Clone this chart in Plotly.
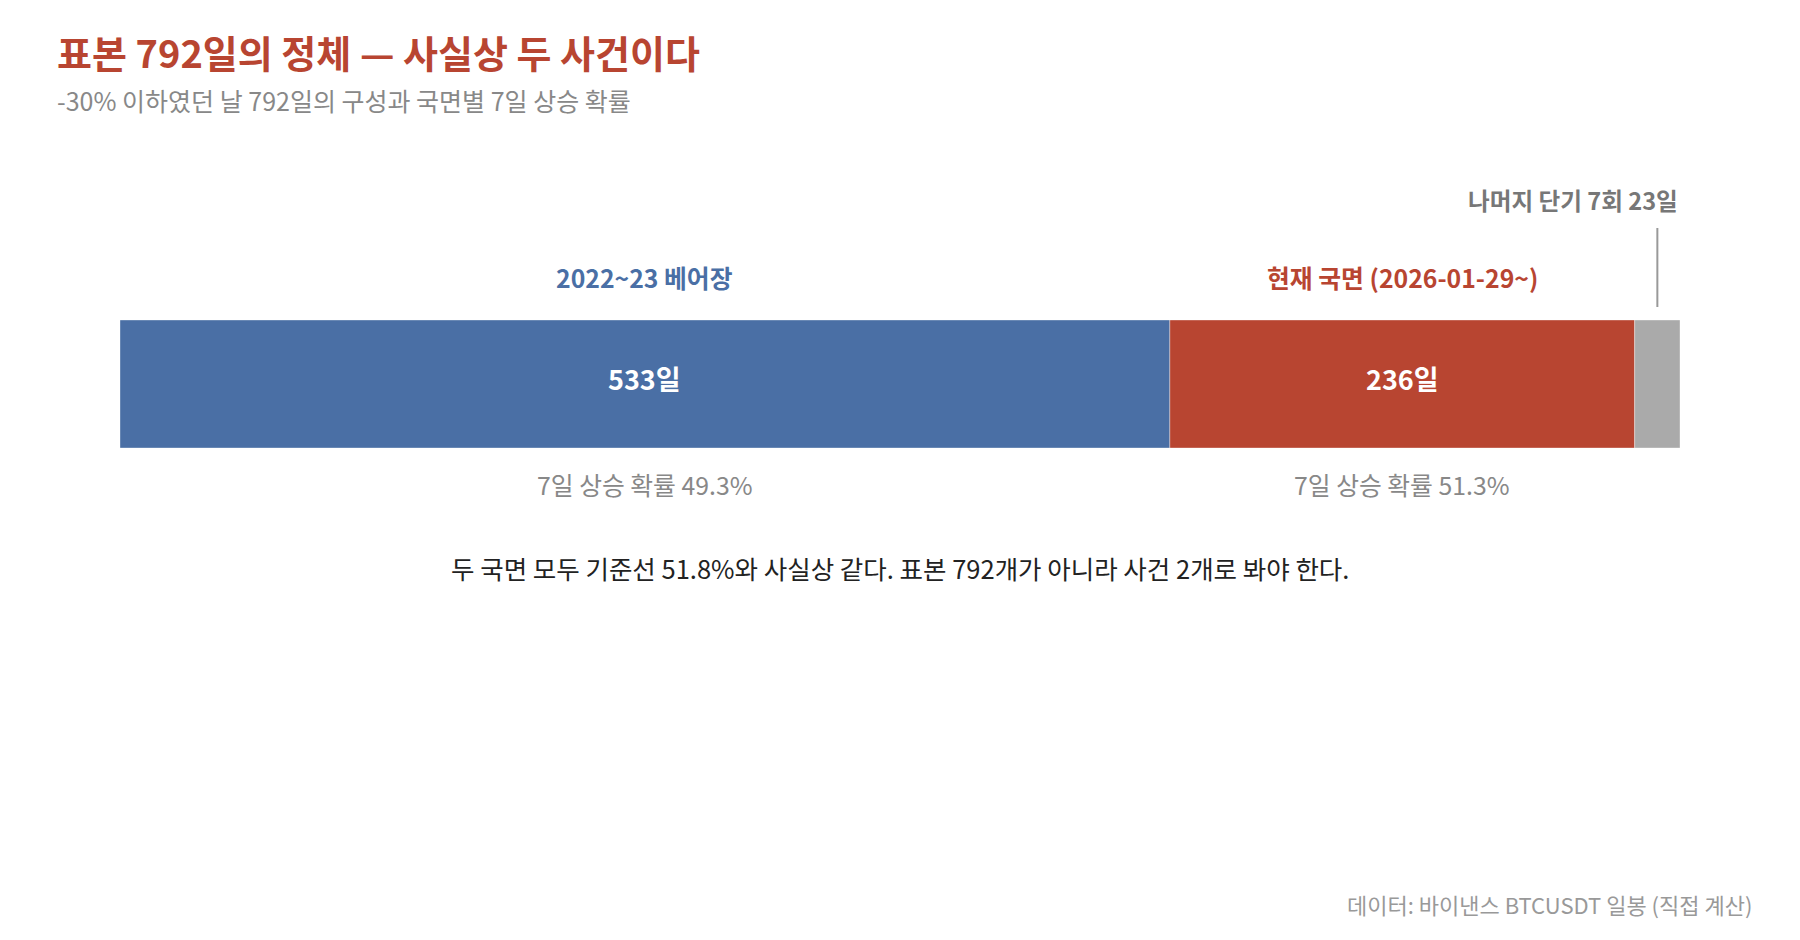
import plotly.graph_objects as go

# ---- data ----
segment_names = ["2022~23 베어장", "현재 국면 (2026-01-29~)", "나머지 단기 7회"]
segment_days = [533, 236, 23]
up_prob_7d = [49.3, 51.3, None]
segment_colors = ["#4a6fa5", "#b84531", "#aaaaaa"]
label_colors = ["#4a6fa5", "#b84531", "#777777"]
rest_label = "나머지 단기 7회 23일"

title = "표본 792일의 정체 — 사실상 두 사건이다"
subtitle = "-30% 이하였던 날 792일의 구성과 국면별 7일 상승 확률"
note = "두 국면 모두 기준선 51.8%와 사실상 같다. 표본 792개가 아니라 사건 2개로 봐야 한다."
source = "데이터: 바이낸스 BTCUSDT 일봉 (직접 계산)"

FONT = "Noto Sans CJK KR"
W, H = 1800, 940
BAR_Y = 384
total = sum(segment_days)

fig = go.Figure()
starts = []
acc = 0
for name, d, c in zip(segment_names, segment_days, segment_colors):
    starts.append(acc)
    fig.add_trace(go.Bar(
        x=[d], y=[BAR_Y], base=[acc], orientation="h", width=128,
        marker=dict(color=c, line=dict(color="rgba(255,255,255,0.6)", width=0.6)),
        hoverinfo="skip", showlegend=False, name=name,
    ))
    acc += d

annotations = []
for i, (name, d) in enumerate(zip(segment_names, segment_days)):
    mid = starts[i] + d / 2
    if up_prob_7d[i] is not None:
        annotations.append(dict(x=mid, y=BAR_Y - 6, xref="x", yref="y", text=f"<b>{d}일</b>",
                                showarrow=False, font=dict(family=FONT, size=27, color="white")))
        annotations.append(dict(x=mid, y=277, xref="x", yref="y", text=f"<b>{name}</b>",
                                showarrow=False, font=dict(family=FONT, size=24.8, color=label_colors[i])))
        annotations.append(dict(x=mid, y=484, xref="x", yref="y", text=f"7일 상승 확률 {up_prob_7d[i]}%",
                                showarrow=False, font=dict(family=FONT, size=24.8, color="#888888")))

rest_mid = starts[2] + segment_days[2] / 2
annotations.append(dict(x=total, y=200, xref="x", yref="y", xanchor="right", text=f"<b>{rest_label}</b>",
                        showarrow=False, font=dict(family=FONT, size=23.6, color="#777777")))

annotations += [
    dict(x=55 / W, y=51, xref="paper", yref="y", xanchor="left", text=f"<b>{title}</b>",
         showarrow=False, font=dict(family=FONT, size=38, color="#b84531")),
    dict(x=55 / W, y=100, xref="paper", yref="y", xanchor="left", text=subtitle,
         showarrow=False, font=dict(family=FONT, size=25, color="#888888")),
    dict(x=total / 2, y=567, xref="x", yref="y", text=note,
         showarrow=False, font=dict(family=FONT, size=25.5, color="#222222")),
    dict(x=1754 / W, y=904, xref="paper", yref="y", xanchor="right", text=source,
         showarrow=False, font=dict(family=FONT, size=22, color="#999999")),
]

fig.add_shape(type="line", x0=rest_mid, x1=rest_mid, y0=228, y1=307, xref="x", yref="y",
              line=dict(color="#999999", width=2))

fig.update_layout(
    width=W, height=H, margin=dict(l=0, r=0, t=0, b=0),
    paper_bgcolor="white", plot_bgcolor="white",
    barmode="overlay", annotations=annotations,
    xaxis=dict(domain=[120 / W, 1680 / W], range=[0, total], visible=False, fixedrange=True),
    yaxis=dict(domain=[0, 1], range=[H, 0], visible=False, fixedrange=True),
    font=dict(family=FONT),
)
fig.write_html("out.html", config={"displayModeBar": False},
               post_script="document.body.style.margin='0';document.body.style.overflow='hidden';")
